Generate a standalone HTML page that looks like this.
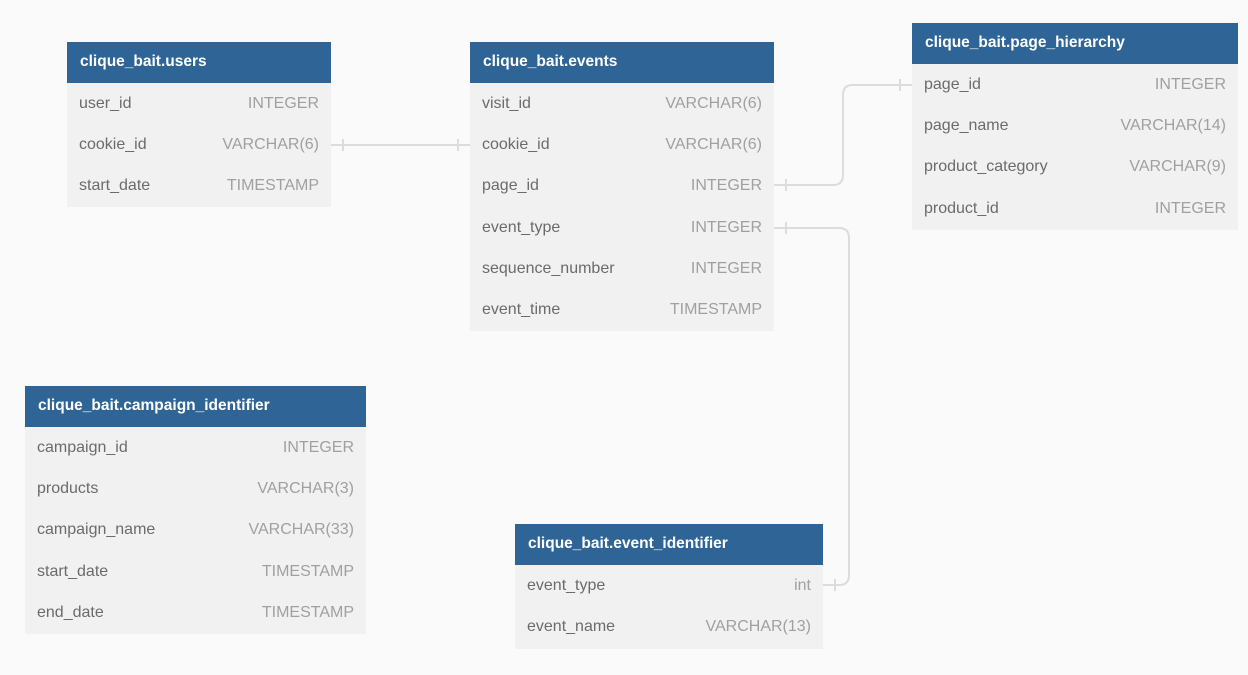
<!DOCTYPE html>
<html><head><style>
body{margin:0;width:1248px;height:675px;background:#fafafa;font-family:"Liberation Sans",sans-serif;position:relative;overflow:hidden}
.t{position:absolute;background:#f1f1f1}
.h{background:#2e6596;color:#fff;font-weight:bold;font-size:15.5px;height:41px;line-height:40px;padding-left:13px}
.r{height:41.2px;line-height:41px;font-size:16px;color:#6b6b6b;padding:0 12px;display:flex;justify-content:space-between}
.r span:last-child{color:#a0a0a0}
svg{position:absolute;left:0;top:0}
</style></head><body>
<svg width="1248" height="675"><g stroke="#dcdcdc" stroke-width="2" fill="none">
<path d="M331 145H470M343 139v12M458 139v12"/>
<path d="M774 185H833Q843 185 843 175V95Q843 85 853 85H912M786 179v12M900 79v12"/>
<path d="M774 228H839Q849 228 849 238V575Q849 585 839 585H823M786 222v12M835 579v12"/>
</g></svg>
<div class="t" style="left:67px;top:42px;width:264px;height:165px"><div class="h">clique_bait.users</div>
<div class="r"><span>user_id</span><span>INTEGER</span></div>
<div class="r"><span>cookie_id</span><span>VARCHAR(6)</span></div>
<div class="r"><span>start_date</span><span>TIMESTAMP</span></div></div>
<div class="t" style="left:470px;top:42px;width:304px;height:289px"><div class="h">clique_bait.events</div>
<div class="r"><span>visit_id</span><span>VARCHAR(6)</span></div>
<div class="r"><span>cookie_id</span><span>VARCHAR(6)</span></div>
<div class="r"><span>page_id</span><span>INTEGER</span></div>
<div class="r"><span>event_type</span><span>INTEGER</span></div>
<div class="r"><span>sequence_number</span><span>INTEGER</span></div>
<div class="r"><span>event_time</span><span>TIMESTAMP</span></div></div>
<div class="t" style="left:912px;top:23px;width:326px;height:207px"><div class="h">clique_bait.page_hierarchy</div>
<div class="r"><span>page_id</span><span>INTEGER</span></div>
<div class="r"><span>page_name</span><span>VARCHAR(14)</span></div>
<div class="r"><span>product_category</span><span>VARCHAR(9)</span></div>
<div class="r"><span>product_id</span><span>INTEGER</span></div></div>
<div class="t" style="left:25px;top:386px;width:341px;height:248px"><div class="h">clique_bait.campaign_identifier</div>
<div class="r"><span>campaign_id</span><span>INTEGER</span></div>
<div class="r"><span>products</span><span>VARCHAR(3)</span></div>
<div class="r"><span>campaign_name</span><span>VARCHAR(33)</span></div>
<div class="r"><span>start_date</span><span>TIMESTAMP</span></div>
<div class="r"><span>end_date</span><span>TIMESTAMP</span></div></div>
<div class="t" style="left:515px;top:524px;width:308px;height:125px"><div class="h">clique_bait.event_identifier</div>
<div class="r"><span>event_type</span><span>int</span></div>
<div class="r"><span>event_name</span><span>VARCHAR(13)</span></div></div>
</body></html>
